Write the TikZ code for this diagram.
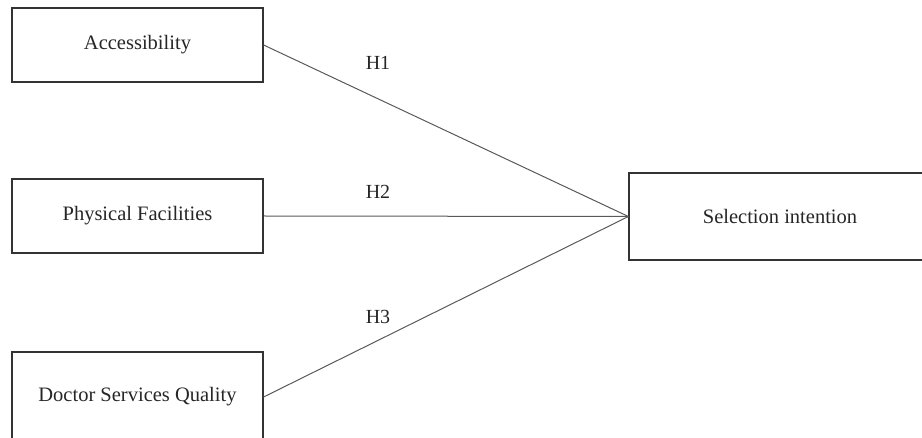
\documentclass[tikz,border=0pt]{standalone}
\usepackage{fontspec}
\setmainfont{Liberation Serif}
\usepackage{xcolor}

\begin{document}
\begin{tikzpicture}[x=1pt,y=-1pt,
  factor/.style={draw=black!80,line width=1.2pt,minimum width=251,minimum height=74,inner sep=0,text=black!85,font=\fontsize{20.5}{24}\selectfont},
  hyp/.style={text=black!85,font=\fontsize{20}{24}\selectfont},
  path/.style={draw=black!65,line width=1pt}]
\useasboundingbox (0,0) rectangle (922,438);
\clip (0,0) rectangle (922,438);
\node [factor] (access) at (137.5,45) {Accessibility};
\node [factor] (physical) at (137.5,216) {Physical Facilities};
\node [factor,minimum height=90] (doctor) at (137.5,397) {Doctor Services Quality};
\node [factor,minimum width=302,minimum height=87] (select) at (780,216.5) {Selection intention};
  \foreach \src/\lbl/\ypos in {access/H1/63,physical/H2/192,doctor/H3/317}
  {  \draw [path] (\src.east) -- (select.west);
     \node [hyp] (\lbl) at (378,\ypos) {\lbl};}
\end{tikzpicture}
\end{document}
